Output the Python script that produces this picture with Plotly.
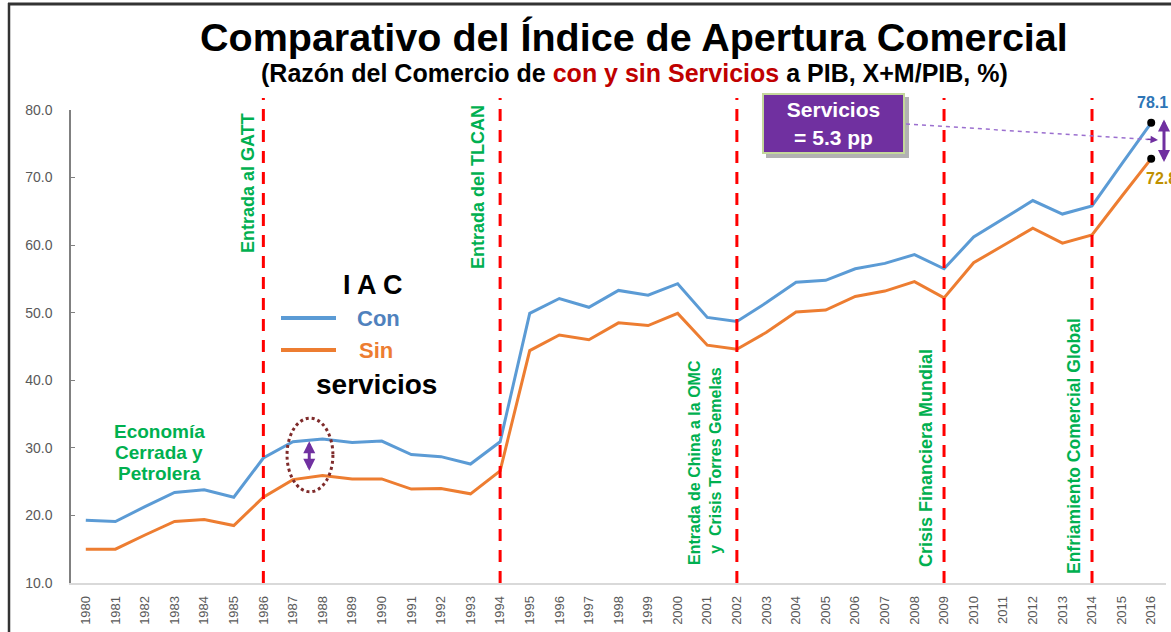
import plotly.graph_objects as go

# ---- Data ----
years = list(range(1980, 2017))
con_servicios = [19.3, 19.1, 21.3, 23.4, 23.8, 22.7, 28.5, 30.9, 31.3, 30.8,
                 31.0, 29.0, 28.7, 27.6, 30.9, 49.9, 52.1, 50.8, 53.3, 52.6,
                 54.3, 49.3, 48.7, 51.5, 54.5, 54.8, 56.5, 57.3, 58.6, 56.5,
                 61.2, 63.9, 66.6, 64.6, 65.8, 72.0, 78.1]
sin_servicios = [15.0, 15.0, 17.1, 19.1, 19.4, 18.5, 22.7, 25.3, 25.9, 25.4,
                 25.4, 23.9, 24.0, 23.2, 26.6, 44.4, 46.7, 46.0, 48.5, 48.1,
                 49.9, 45.2, 44.6, 47.1, 50.1, 50.4, 52.4, 53.2, 54.6, 52.2,
                 57.4, 60.0, 62.5, 60.3, 61.5, 67.2, 72.8]
event_years = [1986, 1994, 2002, 2009, 2014]
event_labels = ["Entrada al GATT", "Entrada del TLCAN",
                "Entrada de China a la OMC<br> y  Crisis Torres Gemelas",
                "Crisis Financiera Mundial", "Enfriamiento Comercial Global"]

BLUE = "#5B9BD5"
ORANGE = "#ED7D31"
GREEN = "#00B050"
PURPLE = "#7030A0"
FONT = "Liberation Sans, Arial, sans-serif"

# page is shown without body margin (see post_script), so pixels = window pixels
W, H = 1171, 632
L, R, T, B = 71, 5, 110, 49
PW, PH = W - L - R, H - T - B


def px(x):
    # window pixel -> paper x
    return (x - L) / PW


def py(y):
    # window pixel -> paper y
    return (H - B - y) / PH


def note(text, x, y, size, color, **kw):
    d = dict(text=text, xref="paper", yref="paper", x=px(x), y=py(y), showarrow=False,
             xanchor="center", yanchor="middle", font=dict(family=FONT, size=size, color=color))
    d.update(kw)
    return d


fig = go.Figure()

fig.add_trace(go.Scatter(x=years, y=con_servicios, mode="lines", name="Con",
                         line=dict(color=BLUE, width=3)))
fig.add_trace(go.Scatter(x=years, y=sin_servicios, mode="lines", name="Sin",
                         line=dict(color=ORANGE, width=3)))
fig.add_trace(go.Scatter(x=[years[-1], years[-1]], y=[con_servicios[-1], sin_servicios[-1]],
                         mode="markers", marker=dict(color="black", size=8),
                         cliponaxis=False, showlegend=False))

shapes = []
annotations = []

# ---- event lines + labels ----
label_pos = [(248, 183, 18), (478, 187, 18), (705, 463, 16), (926, 458, 18), (1074, 446, 17.5)]
for yr, lab, (lx, ly, fs) in zip(event_years, event_labels, label_pos):
    shapes.append(dict(type="line", xref="x", yref="paper", x0=yr, x1=yr, y0=0, y1=py(98),
                       line=dict(color="#FF0000", width=3, dash="12px,9px")))
    annotations.append(note("<b>%s</b>" % lab, lx, ly, fs, GREEN, textangle=-90))

# Economía cerrada
for i, t in enumerate(["Economía", "Cerrada y", "Petrolera"]):
    annotations.append(note("<b>%s</b>" % t, 159, 431 + 21 * i, 19, GREEN))

# ---- custom legend ----
annotations.append(note("<b>I A C</b>", 373, 285, 27, "black"))
shapes.append(dict(type="line", xref="paper", yref="paper", x0=px(281), x1=px(336),
                   y0=py(318), y1=py(318), line=dict(color=BLUE, width=4)))
annotations.append(note("<b>Con</b>", 379, 318, 22, "#4F81BD"))
shapes.append(dict(type="line", xref="paper", yref="paper", x0=px(281), x1=px(336),
                   y0=py(350), y1=py(350), line=dict(color=ORANGE, width=4)))
annotations.append(note("<b>Sin</b>", 376, 350, 22, ORANGE))
annotations.append(note("<b>servicios</b>", 376, 385, 28, "black"))

# ---- dotted ellipse with small double arrow ----
shapes.append(dict(type="circle", xref="x", yref="y", x0=1986.8, x1=1988.35, y0=23.5, y1=34.4,
                   line=dict(color="#7F2B2B", width=3, dash="dot")))
annotations.append(dict(x=1987.55, y=26.6, ax=1987.55, ay=31.2, axref="x", ayref="y",
                        xref="x", yref="y", text="", showarrow=True, arrowside="end+start",
                        arrowhead=2, arrowsize=0.8, arrowwidth=3, arrowcolor=PURPLE))

# ---- end labels ----
annotations.append(dict(text="<b>%.1f</b>" % con_servicios[-1], x=years[-1], y=con_servicios[-1],
                        xref="x", yref="y", showarrow=False, yshift=20, xshift=1,
                        xanchor="center", yanchor="middle",
                        font=dict(family=FONT, size=16, color="#2E75B6")))
annotations.append(dict(text="<b>%.1f</b>" % sin_servicios[-1], x=years[-1], y=sin_servicios[-1],
                        xref="x", yref="y", showarrow=False, yshift=-20, xshift=10,
                        xanchor="center", yanchor="middle",
                        font=dict(family=FONT, size=16, color="#BF9000")))
# double arrow between end points
annotations.append(dict(x=px(1164), y=py(162), ax=0, ay=-44,
                        xref="paper", yref="paper", text="", showarrow=True, arrowside="end+start",
                        arrowhead=2, arrowsize=0.8, arrowwidth=3, arrowcolor=PURPLE))

# ---- Servicios box ----
shapes.append(dict(type="rect", xref="paper", yref="paper", x0=px(766), x1=px(909),
                   y0=py(97), y1=py(158), fillcolor="rgba(0,0,0,0.3)", line=dict(width=0)))
annotations.append(note("<b>Servicios<br>= 5.3 pp</b>", 833.5, 123.5, 21, "white",
                        width=139, height=57, bgcolor=PURPLE, bordercolor="#C4D79B",
                        borderwidth=2, borderpad=0))
shapes.append(dict(type="line", xref="paper", yref="paper", x0=px(906), x1=px(1148),
                   y0=py(124), y1=py(139.5), line=dict(color="#9B6FCF", width=1.5, dash="4px,4px")))
annotations.append(dict(x=px(1158), y=py(140), xref="paper", yref="paper", ax=-12, ay=-0.8,
                        text="", showarrow=True, arrowhead=2, arrowsize=1, arrowwidth=1.5,
                        arrowcolor=PURPLE))

# ---- outer frame ----
shapes.append(dict(type="line", xref="paper", yref="paper", x0=px(9), x1=px(9),
                   y0=py(3), y1=py(640), line=dict(color="#333333", width=2.5)))
shapes.append(dict(type="line", xref="paper", yref="paper", x0=px(8), x1=px(1180),
                   y0=py(4), y1=py(4), line=dict(color="#333333", width=3)))

# ---- titles ----
annotations.append(note("<b>Comparativo del Índice de Apertura Comercial</b>", 634, 37, 39.5, "black"))
annotations.append(note("<b>(Razón del Comercio de <span style='color:#C00000'>con y sin Servicios</span>"
                        " a PIB, X+M/PIB, %)</b>", 634, 73, 25, "black"))

# ---- Layout ----
fig.update_layout(
    width=W, height=H,
    margin=dict(l=L, r=R, t=T, b=B, autoexpand=False),
    paper_bgcolor="white", plot_bgcolor="white",
    showlegend=False,
    shapes=shapes,
    annotations=annotations,
    font=dict(family=FONT),
)
fig.update_xaxes(range=[1979.5, 2016.5], tickvals=years, ticktext=[str(y) for y in years],
                 tickangle=-90, showgrid=False, zeroline=False, automargin=False,
                 showline=True, linecolor="#D9D9D9", linewidth=1.5, ticks="",
                 ticklabelstandoff=6,
                 tickfont=dict(family=FONT, size=13, color="#595959"))
fig.update_yaxes(range=[10, 80], dtick=10, tickformat=".1f", showgrid=False, zeroline=False,
                 showline=True, linecolor="#808080", linewidth=1.5, automargin=False,
                 ticks="inside", ticklen=4, tickcolor="#808080", ticklabelstandoff=14,
                 tickfont=dict(family=FONT, size=14, color="#595959"))

fig.write_html("out.html", config={"displayModeBar": False},
               post_script="document.body.style.margin='0';")
